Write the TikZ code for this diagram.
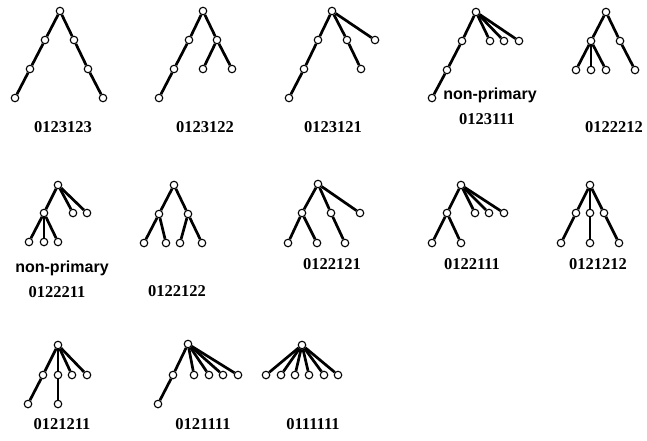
\documentclass[tikz,border=0pt]{standalone}
\usepackage{fontspec}
\setmainfont{Liberation Serif}
\newfontfamily\npfont{Liberation Sans}
\begin{document}
\begin{tikzpicture}[x=1pt,y=-1pt,
  v/.style={circle,draw,fill=white,inner sep=0pt,minimum size=7.5pt,line width=1.1pt},
  lbl/.style={font=\fontsize{16.5}{16.5}\selectfont\bfseries,inner sep=0pt},
  np/.style={font=\fontsize{16}{16}\selectfont\npfont\bfseries,inner sep=0pt},
  every path/.style={line width=2.7pt}]
\useasboundingbox (0,0) rectangle (647,440);
% Tree 1: 0123123
\node[v] (a0) at (60,11) {};
\node[v] (a1) at (45,40) {};
\node[v] (a2) at (30,69) {};
\node[v] (a3) at (15,98) {};
\node[v] (a4) at (74,40) {};
\node[v] (a5) at (88,69) {};
\node[v] (a6) at (103,98) {};
\draw (a0)--(a1)--(a2)--(a3);
\draw (a0)--(a4)--(a5)--(a6);
\node[lbl] (la) at (63,127) {0123123};
% Tree 2: 0123122
\node[v] (b0) at (203,11) {};
\node[v] (b1) at (189,40) {};
\node[v] (b2) at (174,69) {};
\node[v] (b3) at (159,98) {};
\node[v] (b4) at (217,40) {};
\node[v] (b5) at (203,69) {};
\node[v] (b6) at (232,69) {};
\draw (b0)--(b1)--(b2)--(b3);
\draw (b0)--(b4)--(b5);
\draw (b4)--(b6);
\node[lbl] (lb) at (205,127) {0123122};
% Tree 3: 0123121
\node[v] (c0) at (332,11) {};
\node[v] (c1) at (318,40) {};
\node[v] (c2) at (304,69) {};
\node[v] (c3) at (289,98) {};
\node[v] (c4) at (347,40) {};
\node[v] (c5) at (361,69) {};
\node[v] (c6) at (375,40) {};
\draw (c0)--(c1)--(c2)--(c3);
\draw (c0)--(c4)--(c5);
\draw (c0)--(c6);
\node[lbl] (lc) at (333,127) {0123121};
% Tree 4: 0123111
\node[v] (d0) at (476,12) {};
\node[v] (d1) at (462,41) {};
\node[v] (d2) at (447,70) {};
\node[v] (d3) at (432,98) {};
\node[v] (d4) at (490,41) {};
\node[v] (d5) at (504,41) {};
\node[v] (d6) at (519,41) {};
\draw (d0)--(d1)--(d2)--(d3);
\draw (d0)--(d4);
\draw (d0)--(d5);
\draw (d0)--(d6);
\node[np] (npd) at (490,95) {non-primary};
\node[lbl] (ld) at (487,119) {0123111};
% Tree 5: 0122212
\node[v] (e0) at (606,12) {};
\node[v] (e1) at (591,41) {};
\node[v] (e2) at (576,70) {};
\node[v] (e3) at (591,70) {};
\node[v] (e4) at (606,70) {};
\node[v] (e5) at (620,41) {};
\node[v] (e6) at (635,70) {};
\draw (e0)--(e1)--(e2);
\draw (e1)--(e3);
\draw (e1)--(e4);
\draw (e0)--(e5)--(e6);
\node[lbl] (le) at (614,127) {0122212};
% Tree 6: 0122211
\node[v] (f0) at (58,185) {};
\node[v] (f1) at (44,213) {};
\node[v] (f2) at (29,242) {};
\node[v] (f3) at (44,242) {};
\node[v] (f4) at (58,242) {};
\node[v] (f5) at (73,213) {};
\node[v] (f6) at (87,213) {};
\draw (f0)--(f1)--(f2);
\draw (f1)--(f3);
\draw (f1)--(f4);
\draw (f0)--(f5);
\draw (f0)--(f6);
\node[np] (npf) at (62,268) {non-primary};
\node[lbl] (lf) at (57,292) {0122211};
% Tree 7: 0122122
\node[v] (g0) at (174,185) {};
\node[v] (g1) at (159,214) {};
\node[v] (g2) at (144,243) {};
\node[v] (g3) at (166,243) {};
\node[v] (g4) at (188,214) {};
\node[v] (g5) at (180,243) {};
\node[v] (g6) at (202,243) {};
\draw (g0)--(g1)--(g2);
\draw (g1)--(g3);
\draw (g0)--(g4)--(g5);
\draw (g4)--(g6);
\node[lbl] (lg) at (177,291) {0122122};
% Tree 8: 0122121
\node[v] (h0) at (318,184) {};
\node[v] (h1) at (302,213) {};
\node[v] (h2) at (288,243) {};
\node[v] (h3) at (317,243) {};
\node[v] (h4) at (331,213) {};
\node[v] (h5) at (345,243) {};
\node[v] (h6) at (360,213) {};
\draw (h0)--(h1)--(h2);
\draw (h1)--(h3);
\draw (h0)--(h4)--(h5);
\draw (h0)--(h6);
\node[lbl] (lh) at (332,264) {0122121};
% Tree 9: 0122111
\node[v] (i0) at (461,185) {};
\node[v] (i1) at (447,213) {};
\node[v] (i2) at (432,243) {};
\node[v] (i3) at (461,243) {};
\node[v] (i4) at (475,213) {};
\node[v] (i5) at (489,213) {};
\node[v] (i6) at (504,213) {};
\draw (i0)--(i1)--(i2);
\draw (i1)--(i3);
\draw (i0)--(i4);
\draw (i0)--(i5);
\draw (i0)--(i6);
\node[lbl] (li) at (472,264) {0122111};
% Tree 10: 0121212
\node[v] (j0) at (590,185) {};
\node[v] (j1) at (576,213) {};
\node[v] (j2) at (561,243) {};
\node[v] (j3) at (590,213) {};
\node[v] (j4) at (590,243) {};
\node[v] (j5) at (604,213) {};
\node[v] (j6) at (619,243) {};
\draw (j0)--(j1)--(j2);
\draw (j0)--(j3)--(j4);
\draw (j0)--(j5)--(j6);
\node[lbl] (lj) at (598,264) {0121212};
% Tree 11: 0121211
\node[v] (k0) at (58,345) {};
\node[v] (k1) at (43,375) {};
\node[v] (k2) at (28,404) {};
\node[v] (k3) at (58,375) {};
\node[v] (k4) at (58,404) {};
\node[v] (k5) at (72,375) {};
\node[v] (k6) at (87,375) {};
\draw (k0)--(k1)--(k2);
\draw (k0)--(k3)--(k4);
\draw (k0)--(k5);
\draw (k0)--(k6);
\node[lbl] (lk) at (62,424) {0121211};
% Tree 12: 0121111
\node[v] (l0) at (188,344) {};
\node[v] (l1) at (173,375) {};
\node[v] (l2) at (158,404) {};
\node[v] (l3) at (194,375) {};
\node[v] (l4) at (209,375) {};
\node[v] (l5) at (223,375) {};
\node[v] (l6) at (238,375) {};
\draw (l0)--(l1)--(l2);
\draw (l0)--(l3);
\draw (l0)--(l4);
\draw (l0)--(l5);
\draw (l0)--(l6);
\node[lbl] (ll) at (203,424) {0121111};
% Tree 13: 0111111
\node[v] (m0) at (302,345) {};
\node[v] (m1) at (266,375) {};
\node[v] (m2) at (281,375) {};
\node[v] (m3) at (295,375) {};
\node[v] (m4) at (309,375) {};
\node[v] (m5) at (324,375) {};
\node[v] (m6) at (338,375) {};
\foreach \t in {1,...,6} {\draw (m0)--(m\t);}
\node[lbl] (lm) at (313,424) {0111111};
\end{tikzpicture}
\end{document}
